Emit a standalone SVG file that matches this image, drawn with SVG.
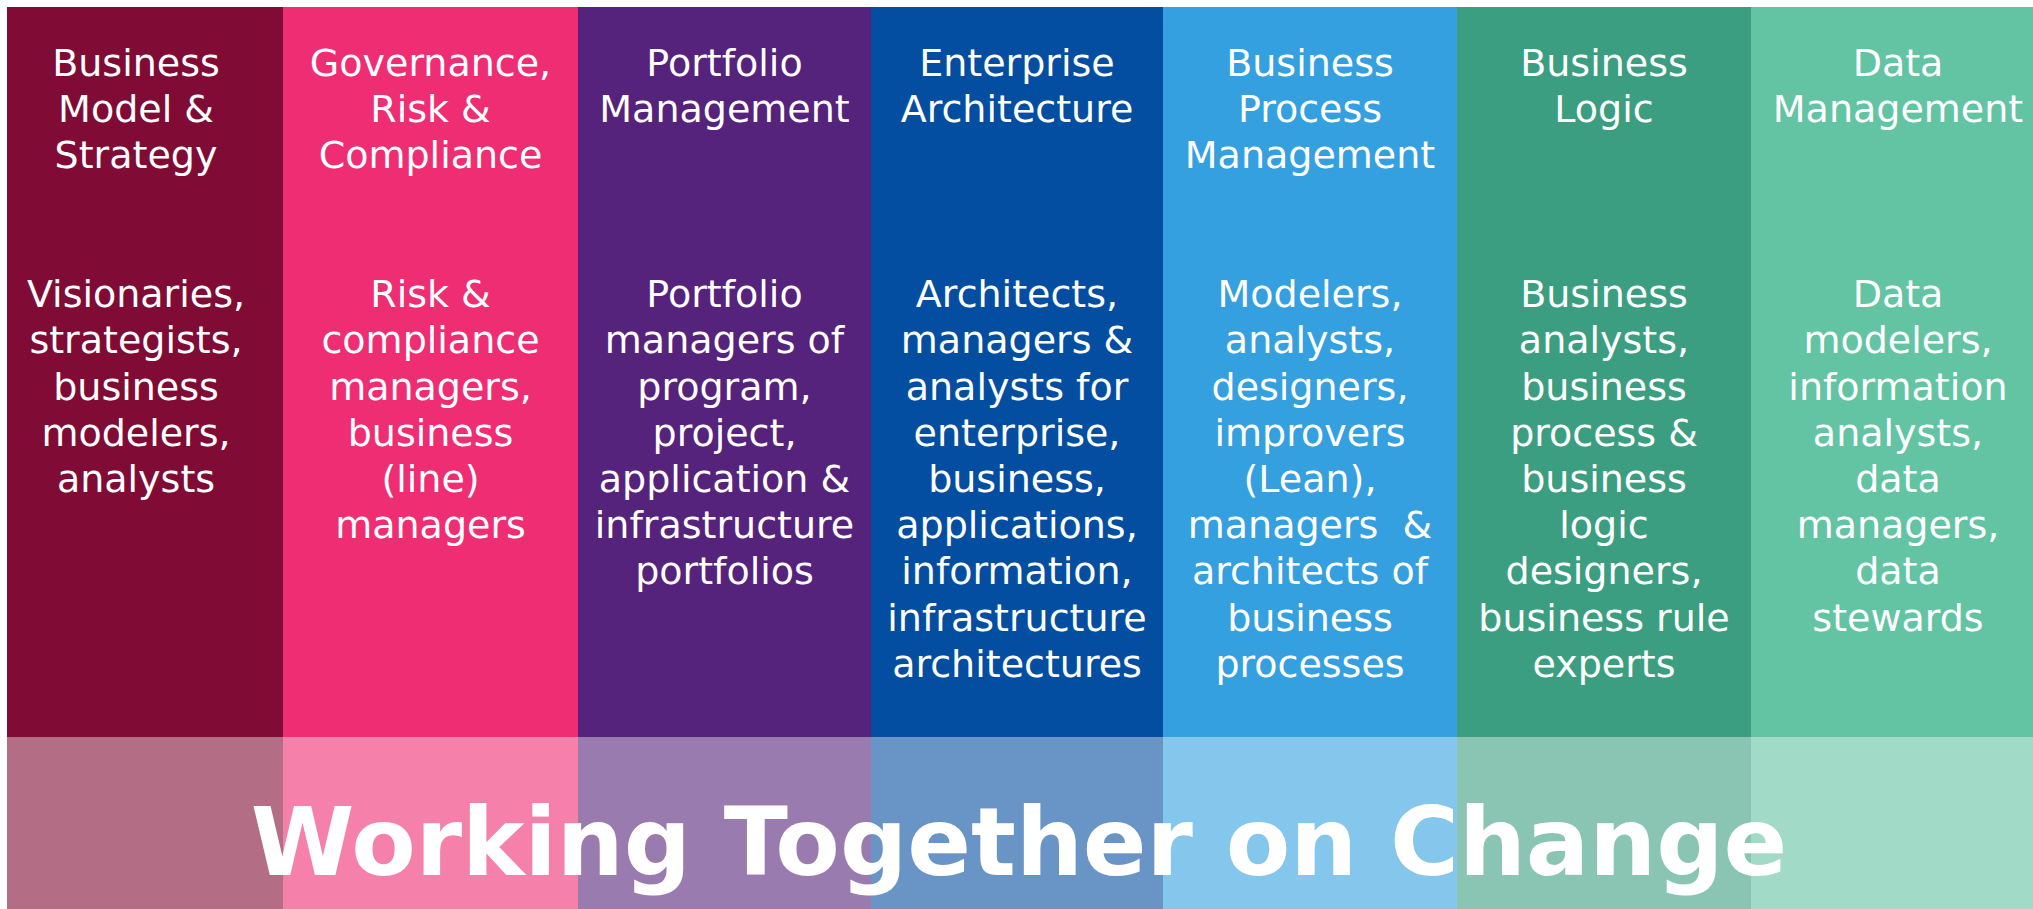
<svg xmlns="http://www.w3.org/2000/svg" width="2033" height="909" viewBox="0 0 2033 909">
<style>
.t{font-family:"DejaVu Sans","Verdana",sans-serif;font-size:38px;fill:#ffffff;text-anchor:middle}
.title{font-family:"DejaVu Sans","Verdana",sans-serif;font-size:94px;font-weight:bold;fill:#ffffff;text-anchor:middle}
.band{fill:#ffffff;fill-opacity:0.4}
</style>
<rect x="0" y="0" width="2033" height="909" fill="#ffffff"/>
<g id="col-business-model">
<rect x="7" y="7" width="276" height="902" fill="#800C35"/>
<rect class="band" x="7" y="737" width="276" height="172"/>
<text class="t"><tspan x="136" y="76">Business</tspan><tspan x="136" y="122">Model &amp;</tspan><tspan x="136" y="168">Strategy</tspan></text>
<text class="t"><tspan x="136" y="307">Visionaries,</tspan><tspan x="136" y="353">strategists,</tspan><tspan x="136" y="400">business</tspan><tspan x="136" y="446">modelers,</tspan><tspan x="136" y="492">analysts</tspan></text>
</g>
<g id="col-governance">
<rect x="283" y="7" width="295" height="902" fill="#EE2D72"/>
<rect class="band" x="283" y="737" width="295" height="172"/>
<text class="t"><tspan x="430.5" y="76">Governance,</tspan><tspan x="430.5" y="122">Risk &amp;</tspan><tspan x="430.5" y="168">Compliance</tspan></text>
<text class="t"><tspan x="430.5" y="307">Risk &amp;</tspan><tspan x="430.5" y="353">compliance</tspan><tspan x="430.5" y="400">managers,</tspan><tspan x="430.5" y="446">business</tspan><tspan x="430.5" y="492">(line)</tspan><tspan x="430.5" y="538">managers</tspan></text>
</g>
<g id="col-portfolio">
<rect x="578" y="7" width="293" height="902" fill="#56237C"/>
<rect class="band" x="578" y="737" width="293" height="172"/>
<text class="t"><tspan x="724.5" y="76">Portfolio</tspan><tspan x="724.5" y="122">Management</tspan></text>
<text class="t"><tspan x="724.5" y="307">Portfolio</tspan><tspan x="724.5" y="353">managers of</tspan><tspan x="724.5" y="400">program,</tspan><tspan x="724.5" y="446">project,</tspan><tspan x="724.5" y="492">application &amp;</tspan><tspan x="724.5" y="538">infrastructure</tspan><tspan x="724.5" y="584">portfolios</tspan></text>
</g>
<g id="col-enterprise">
<rect x="871" y="7" width="292" height="902" fill="#044EA1"/>
<rect class="band" x="871" y="737" width="292" height="172"/>
<text class="t"><tspan x="1017" y="76">Enterprise</tspan><tspan x="1017" y="122">Architecture</tspan></text>
<text class="t"><tspan x="1017" y="307">Architects,</tspan><tspan x="1017" y="353">managers &amp;</tspan><tspan x="1017" y="400">analysts for</tspan><tspan x="1017" y="446">enterprise,</tspan><tspan x="1017" y="492">business,</tspan><tspan x="1017" y="538">applications,</tspan><tspan x="1017" y="584">information,</tspan><tspan x="1017" y="631">infrastructure</tspan><tspan x="1017" y="677">architectures</tspan></text>
</g>
<g id="col-bpm">
<rect x="1163" y="7" width="294" height="902" fill="#35A0E0"/>
<rect class="band" x="1163" y="737" width="294" height="172"/>
<text class="t"><tspan x="1310" y="76">Business</tspan><tspan x="1310" y="122">Process</tspan><tspan x="1310" y="168">Management</tspan></text>
<text class="t"><tspan x="1310" y="307">Modelers,</tspan><tspan x="1310" y="353">analysts,</tspan><tspan x="1310" y="400">designers,</tspan><tspan x="1310" y="446">improvers</tspan><tspan x="1310" y="492">(Lean),</tspan><tspan x="1310" y="538" xml:space="preserve" style="white-space:pre">managers  &amp;</tspan><tspan x="1310" y="584">architects of</tspan><tspan x="1310" y="631">business</tspan><tspan x="1310" y="677">processes</tspan></text>
</g>
<g id="col-logic">
<rect x="1457" y="7" width="294" height="902" fill="#3C9E80"/>
<rect class="band" x="1457" y="737" width="294" height="172"/>
<text class="t"><tspan x="1604" y="76">Business</tspan><tspan x="1604" y="122">Logic</tspan></text>
<text class="t"><tspan x="1604" y="307">Business</tspan><tspan x="1604" y="353">analysts,</tspan><tspan x="1604" y="400">business</tspan><tspan x="1604" y="446">process &amp;</tspan><tspan x="1604" y="492">business</tspan><tspan x="1604" y="538">logic</tspan><tspan x="1604" y="584">designers,</tspan><tspan x="1604" y="631">business rule</tspan><tspan x="1604" y="677">experts</tspan></text>
</g>
<g id="col-data">
<rect x="1751" y="7" width="282" height="902" fill="#63C4A4"/>
<rect class="band" x="1751" y="737" width="282" height="172"/>
<text class="t"><tspan x="1898" y="76">Data</tspan><tspan x="1898" y="122">Management</tspan></text>
<text class="t"><tspan x="1898" y="307">Data</tspan><tspan x="1898" y="353">modelers,</tspan><tspan x="1898" y="400">information</tspan><tspan x="1898" y="446">analysts,</tspan><tspan x="1898" y="492">data</tspan><tspan x="1898" y="538">managers,</tspan><tspan x="1898" y="584">data</tspan><tspan x="1898" y="631">stewards</tspan></text>
</g>
<g id="connectors"></g>
<g id="title">
<text class="title" x="1019" y="875">Working Together on Change</text>
</g>
</svg>
